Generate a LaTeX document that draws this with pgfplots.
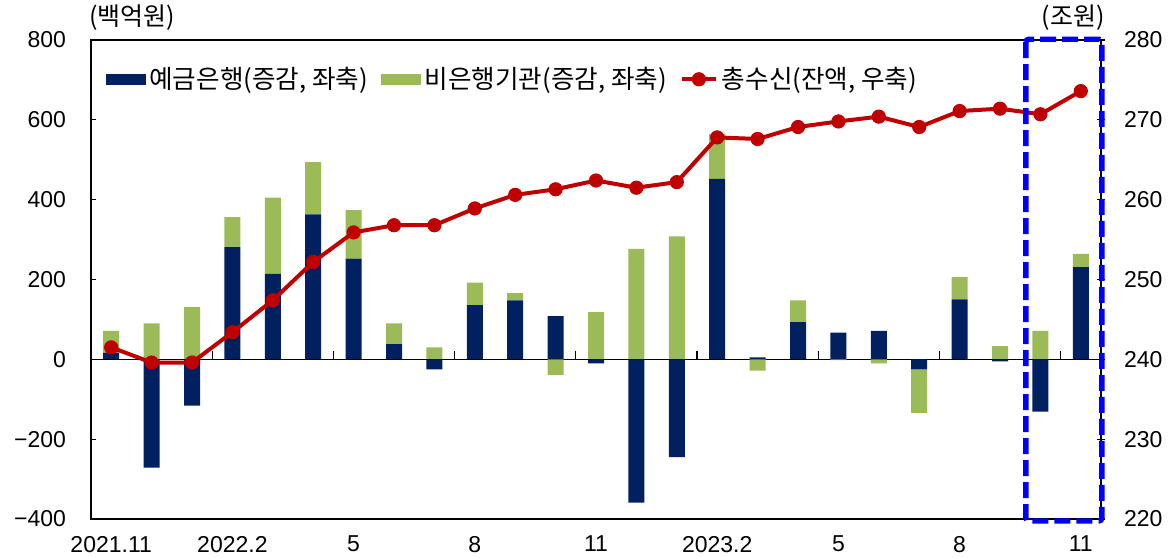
\documentclass[border=0pt]{standalone}
\usepackage{pgfplots}
\pgfplotsset{compat=1.18}
\usepackage{pgfplotstable}
\usepackage{fontspec}
\setmainfont{Liberation Sans}
\newfontfamily\kr{Noto Sans CJK KR}
\definecolor{navy}{RGB}{0,32,96}
\definecolor{lgreen}{RGB}{155,187,89}
\definecolor{dred}{RGB}{192,0,0}
\definecolor{dblue}{RGB}{0,0,255}

% deposit banks (depP / depN) and non-bank institutions (nbP / nbN), split by sign
\pgfplotstableread{
x depP nbP depN nbN
0  17  54    0    0
1   0  90 -271    0
2   0 131 -116    0
3 281  75    0    0
4 214 191    0    0
5 363 131    0    0
6 252 122    0    0
7  38  52    0    0
8   0  30  -25    0
9 136  56    0    0
10 148 18    0    0
11 108  0    0  -39
12   0 118 -10    0
13   0 277 -359   0
14   0 308 -245   0
15 452 113    0   0
16   5   0    0  -28
17  93  55    0   0
18  67   0    0  -2
19  71   0    0 -10
20   0   0  -25 -109
21 150  56    0   0
22   0  33   -5   0
23   0  71 -131   0
24 231  33    0   0
}\bars

\pgfplotstableread{
x total
0 241.5
1 239.6
2 239.6
3 243.4
4 247.4
5 252.2
6 255.9
7 256.8
8 256.8
9 258.9
10 260.6
11 261.3
12 262.4
13 261.5
14 262.2
15 267.8
16 267.6
17 269.1
18 269.8
19 270.4
20 269.1
21 271.1
22 271.4
23 270.7
24 273.6
}\total

\pgfplotsset{
  base/.style={
    width=505pt, height=239.5pt, scale only axis,
    xmin=-0.5, xmax=24.5, enlarge x limits=false,
    /pgf/number format/assume math mode=true,
  },
}

\begin{document}
\begin{tikzpicture}[font=\fontsize{11.5}{13}\selectfont]
% ---- positive parts, main frame
\begin{axis}[base,
  ymin=-400, ymax=800,
  ytick={-400,-200,0,200,400,600,800},
  yticklabels={−400,−200,0,200,400,600,800},
  ytick pos=left, tick align=inside,
  major tick length=2.5pt,
  yticklabel shift=9pt,
  xtick={0,3,6,9,12,15,18,21,24},
  xticklabels={2021.11,2022.2,5,8,11,2023.2,5,8,11},
  xtick pos=bottom,
  x tick style={draw=none},
  xticklabel shift=5pt,
  axis line style={black, line width=0.8pt},
  y tick style={black, line width=0.6pt},
  ybar stacked, bar width=8pt,
]
\addplot[fill=navy, draw=none] table[x=x, y=depP]{\bars};
\addplot[fill=lgreen, draw=none] table[x=x, y=nbP]{\bars};
\coordinate (O) at (rel axis cs:0,0);
\end{axis}
% ---- negative parts
\begin{axis}[base, hide axis,
  ymin=-400, ymax=800,
  ybar stacked, bar width=8pt, clip=false,
]
\addplot[fill=navy, draw=none] table[x=x, y=depN]{\bars};
\addplot[fill=lgreen, draw=none] table[x=x, y=nbN]{\bars};
\draw[black, line width=0.8pt] (axis cs:-0.5,0) -- (axis cs:24.5,0);
\pgfplotsinvokeforeach{2.5,5.5,8.5,11.5,14.5,17.5,20.5,23.5}{
  \draw[black, line width=0.6pt] (axis cs:#1,0) -- (axis cs:#1,20);
}
\end{axis}
% ---- right axis, total deposits
\begin{axis}[base,
  axis x line=none, axis y line*=right,
  ymin=220, ymax=280,
  ytick={220,230,...,280},
  tick align=center, major tick length=4pt,
  yticklabel shift=6pt,
  axis line style={black, line width=0.8pt},
  y tick style={black, line width=0.6pt},
  clip=false,
  legend style={at={(axis description cs:0.014,0.918)}, anchor=west,
    draw=none, fill=none, legend columns=3,
    font=\kr\fontsize{12.8}{14}\selectfont,
    /tikz/every even column/.append style={column sep=4.5pt},
    inner sep=0pt},
]
\addlegendimage{legend image code/.code={\fill[navy] (0pt,-2.6pt) rectangle (19.5pt,2.6pt);}}
\addlegendentry{예금은행(증감, 좌축)}
\addlegendimage{legend image code/.code={\fill[lgreen] (0pt,-2.6pt) rectangle (19.5pt,2.6pt);}}
\addlegendentry{비은행기관(증감, 좌축)}
\addplot[dred, line width=2pt, mark=*, mark size=3.3pt, mark options={fill=dred, draw=dred, line width=0.5pt}] table[x=x, y=total]{\total};
\addlegendentry{총수신(잔액, 우축)}
\draw[dblue, line width=2.7pt, dash pattern=on 8pt off 3pt, rounded corners=1.5pt]
  (axis cs:22.64,280.1) rectangle (axis cs:24.52,219.75);
\end{axis}
\node[anchor=west, xshift=-1pt, yshift=250.5pt, inner sep=0pt] at (O) {\kr\fontsize{12.5}{14}\selectfont (백억원)};
\node[anchor=east, xshift=507pt, yshift=250.5pt, inner sep=0pt] at (O) {\kr\fontsize{12.5}{14}\selectfont (조원)};
\pgfresetboundingbox
\path[use as bounding box] (O) ++(-45.5pt,-19pt) rectangle ++(585pt,278.5pt);
\end{tikzpicture}
\end{document}
